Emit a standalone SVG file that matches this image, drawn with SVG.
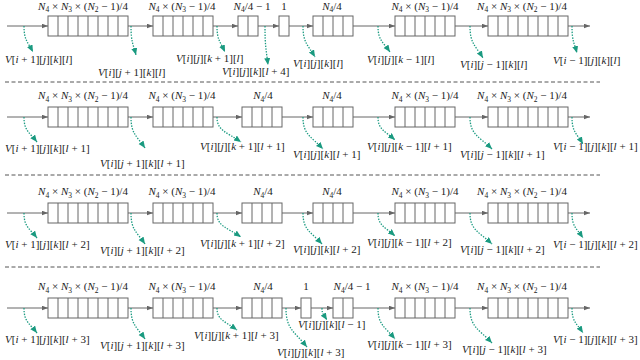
<svg xmlns="http://www.w3.org/2000/svg" width="640" height="360" viewBox="0 0 640 360">
<defs>
<style>
.t{font-family:"Liberation Serif","Times New Roman",serif;font-size:11px;fill:#222}
.c{text-anchor:middle}
.i{font-style:italic}
.s{font-size:7.5px}
.b{fill:#fff;stroke:#666;stroke-width:1}
.d{fill:none;stroke:#666;stroke-width:1}
.ln{stroke:#666;stroke-width:1;fill:none;marker-end:url(#ga)}
.g{stroke:#1a9a80;stroke-width:1.3;stroke-dasharray:1.4 1.4;fill:none;marker-end:url(#ta)}
.sep{stroke:#555;stroke-width:1;stroke-dasharray:4 2.5}
</style>
<marker id="ga" markerUnits="userSpaceOnUse" markerWidth="7" markerHeight="6" refX="6.5" refY="2.5" orient="auto"><path d="M0,0L6.5,2.5L0,5z" fill="#666"/></marker>
<marker id="ta" markerUnits="userSpaceOnUse" markerWidth="8" markerHeight="7" refX="7" refY="3" orient="auto"><path d="M0,0L7,3L0,6z" fill="#1a9a80"/></marker>
</defs>

<g id="separators">
<line class="sep" x1="5" y1="82" x2="600" y2="82"/>
<line class="sep" x1="5" y1="175" x2="600" y2="175"/>
<line class="sep" x1="5" y1="267" x2="600" y2="267"/>
</g>

<g id="connectors">
<line class="ln" x1="7" y1="26" x2="48" y2="26"/>
<line class="ln" x1="128" y1="26" x2="153" y2="26"/>
<line class="ln" x1="213" y1="26" x2="238" y2="26"/>
<line class="ln" x1="258" y1="26" x2="279" y2="26"/>
<line class="ln" x1="289" y1="26" x2="313" y2="26"/>
<line class="ln" x1="353" y1="26" x2="395" y2="26"/>
<line class="ln" x1="455" y1="26" x2="488" y2="26"/>
<line class="ln" x1="568" y1="26" x2="590" y2="26"/>
<line class="ln" x1="7" y1="117" x2="48" y2="117"/>
<line class="ln" x1="128" y1="117" x2="153" y2="117"/>
<line class="ln" x1="213" y1="117" x2="242" y2="117"/>
<line class="ln" x1="282" y1="117" x2="313" y2="117"/>
<line class="ln" x1="353" y1="117" x2="395" y2="117"/>
<line class="ln" x1="455" y1="117" x2="488" y2="117"/>
<line class="ln" x1="568" y1="117" x2="590" y2="117"/>
<line class="ln" x1="7" y1="213" x2="48" y2="213"/>
<line class="ln" x1="128" y1="213" x2="153" y2="213"/>
<line class="ln" x1="213" y1="213" x2="242" y2="213"/>
<line class="ln" x1="282" y1="213" x2="313" y2="213"/>
<line class="ln" x1="353" y1="213" x2="395" y2="213"/>
<line class="ln" x1="455" y1="213" x2="488" y2="213"/>
<line class="ln" x1="568" y1="213" x2="590" y2="213"/>
<line class="ln" x1="7" y1="308" x2="48" y2="308"/>
<line class="ln" x1="128" y1="308" x2="153" y2="308"/>
<line class="ln" x1="213" y1="308" x2="242" y2="308"/>
<line class="ln" x1="282" y1="308" x2="301" y2="308"/>
<line class="ln" x1="311" y1="308" x2="333" y2="308"/>
<line class="ln" x1="353" y1="308" x2="395" y2="308"/>
<line class="ln" x1="455" y1="308" x2="488" y2="308"/>
<line class="ln" x1="568" y1="308" x2="590" y2="308"/>

<path class="g" d="M24,26C24,40.3 27.6,41.6 33,52"/>
<path class="g" d="M131,26C131,42 133,43.4 136,55"/>
<path class="g" d="M217,26C217,40.3 220.2,41.6 225,52"/>
<path class="g" d="M265,26C265,47.5 266.2,49.4 268,65"/>
<path class="g" d="M303,26C303,43 307.8,44.6 315,57"/>
<path class="g" d="M378,26C378,40.3 382.8,41.6 390,52"/>
<path class="g" d="M470,26C470,43.6 475.2,45.2 483,58"/>
<path class="g" d="M572,26C572,40.9 574,42.2 577,53"/>
<path class="g" d="M24,117C24,130.8 29.2,132 37,142"/>
<path class="g" d="M131,117C131,134 136.6,135.6 145,148"/>
<path class="g" d="M217,117C217,130.8 226.6,132 241,142"/>
<path class="g" d="M303,117C303,134.6 311,136.2 323,149"/>
<path class="g" d="M378,117C378,129.7 384.8,130.8 395,140"/>
<path class="g" d="M470,117C470,134.6 478.8,136.2 492,149"/>
<path class="g" d="M572,117C572,131.9 576.4,133.2 583,144"/>
<path class="g" d="M24,213C24,226.8 29.2,228 37,238"/>
<path class="g" d="M131,213C131,230 136.6,231.6 145,244"/>
<path class="g" d="M217,213C217,226.2 226.6,227.4 241,237"/>
<path class="g" d="M303,213C303,230 310.6,231.6 322,244"/>
<path class="g" d="M378,213C378,225.7 384.8,226.8 395,236"/>
<path class="g" d="M470,213C470,230 478.8,231.6 492,244"/>
<path class="g" d="M572,213C572,226.8 576.4,228 583,238"/>
<path class="g" d="M24,308C24,321.8 29.2,323 37,333"/>
<path class="g" d="M131,308C131,325 136.6,326.6 145,339"/>
<path class="g" d="M217,308C217,320.1 225,321.2 237,330"/>
<path class="g" d="M286,308C286,329.5 294.4,331.4 307,347"/>
<path class="g" d="M322,308C322,314.6 324,315.2 327,320"/>
<path class="g" d="M378,308C378,325 384.8,326.6 395,339"/>
<path class="g" d="M470,308C470,327.3 478.8,329 492,343"/>
<path class="g" d="M572,308C572,321.8 576.4,323 583,333"/>
</g>

<g id="r1b1"><rect class="b" x="48" y="16" width="80" height="20"/><path class="d" d="M58 16V36M68 16V36M78 16V36M88 16V36M98 16V36M108 16V36M118 16V36"/>
<text class="t c" x="83" y="9.5"><tspan class="i">N</tspan><tspan class="s" dy="2.5">4</tspan><tspan dy="-2.5"> × </tspan><tspan class="i">N</tspan><tspan class="s" dy="2.5">3</tspan><tspan dy="-2.5"> × (</tspan><tspan class="i">N</tspan><tspan class="s" dy="2.5">2</tspan><tspan dy="-2.5"> − 1)/4</tspan></text></g>
<g id="r1b2"><rect class="b" x="153" y="16" width="60" height="20"/><path class="d" d="M163 16V36M173 16V36M183 16V36M193 16V36M203 16V36"/>
<text class="t c" x="182" y="9.5"><tspan class="i">N</tspan><tspan class="s" dy="2.5">4</tspan><tspan dy="-2.5"> × (</tspan><tspan class="i">N</tspan><tspan class="s" dy="2.5">3</tspan><tspan dy="-2.5"> − 1)/4</tspan></text></g>
<g id="r1b3"><rect class="b" x="238" y="16" width="20" height="20"/><path class="d" d="M248 16V36"/>
<text class="t c" x="252" y="9.5"><tspan class="i">N</tspan><tspan class="s" dy="2.5">4</tspan><tspan dy="-2.5">/4 − 1</tspan></text></g>
<g id="r1b4"><rect class="b" x="279" y="16" width="10" height="20"/>
<text class="t c" x="284" y="9.5">1</text></g>
<g id="r1b5"><rect class="b" x="313" y="16" width="40" height="20"/><path class="d" d="M323 16V36M333 16V36M343 16V36"/>
<text class="t c" x="332" y="9.5"><tspan class="i">N</tspan><tspan class="s" dy="2.5">4</tspan><tspan dy="-2.5">/4</tspan></text></g>
<g id="r1b6"><rect class="b" x="395" y="16" width="60" height="20"/><path class="d" d="M405 16V36M415 16V36M425 16V36M435 16V36M445 16V36"/>
<text class="t c" x="425" y="9.5"><tspan class="i">N</tspan><tspan class="s" dy="2.5">4</tspan><tspan dy="-2.5"> × (</tspan><tspan class="i">N</tspan><tspan class="s" dy="2.5">3</tspan><tspan dy="-2.5"> − 1)/4</tspan></text></g>
<g id="r1b7"><rect class="b" x="488" y="16" width="80" height="20"/><path class="d" d="M498 16V36M508 16V36M518 16V36M528 16V36M538 16V36M548 16V36M558 16V36"/>
<text class="t c" x="522" y="9.5"><tspan class="i">N</tspan><tspan class="s" dy="2.5">4</tspan><tspan dy="-2.5"> × </tspan><tspan class="i">N</tspan><tspan class="s" dy="2.5">3</tspan><tspan dy="-2.5"> × (</tspan><tspan class="i">N</tspan><tspan class="s" dy="2.5">2</tspan><tspan dy="-2.5"> − 1)/4</tspan></text></g>
<g id="r1labels">
<text class="t" x="5" y="63"><tspan class="i">V</tspan>[<tspan class="i">i</tspan> + 1][<tspan class="i">j</tspan>][<tspan class="i">k</tspan>][<tspan class="i">l</tspan>]</text>
<text class="t" x="98" y="76"><tspan class="i">V</tspan>[<tspan class="i">i</tspan>][<tspan class="i">j</tspan> + 1][<tspan class="i">k</tspan>][<tspan class="i">l</tspan>]</text>
<text class="t" x="176" y="62"><tspan class="i">V</tspan>[<tspan class="i">i</tspan>][<tspan class="i">j</tspan>][<tspan class="i">k</tspan> + 1][<tspan class="i">l</tspan>]</text>
<text class="t" x="222" y="75"><tspan class="i">V</tspan>[<tspan class="i">i</tspan>][<tspan class="i">j</tspan>][<tspan class="i">k</tspan>][<tspan class="i">l</tspan> + 4]</text>
<text class="t" x="293" y="67"><tspan class="i">V</tspan>[<tspan class="i">i</tspan>][<tspan class="i">j</tspan>][<tspan class="i">k</tspan>][<tspan class="i">l</tspan>]</text>
<text class="t" x="367" y="63"><tspan class="i">V</tspan>[<tspan class="i">i</tspan>][<tspan class="i">j</tspan>][<tspan class="i">k</tspan> − 1][<tspan class="i">l</tspan>]</text>
<text class="t" x="460" y="68"><tspan class="i">V</tspan>[<tspan class="i">i</tspan>][<tspan class="i">j</tspan> − 1][<tspan class="i">k</tspan>][<tspan class="i">l</tspan>]</text>
<text class="t" x="553" y="64"><tspan class="i">V</tspan>[<tspan class="i">i</tspan> − 1][<tspan class="i">j</tspan>][<tspan class="i">k</tspan>][<tspan class="i">l</tspan>]</text>
</g>

<g id="r2b1"><rect class="b" x="48" y="107" width="80" height="20"/><path class="d" d="M58 107V127M68 107V127M78 107V127M88 107V127M98 107V127M108 107V127M118 107V127"/>
<text class="t c" x="83" y="99"><tspan class="i">N</tspan><tspan class="s" dy="2.5">4</tspan><tspan dy="-2.5"> × </tspan><tspan class="i">N</tspan><tspan class="s" dy="2.5">3</tspan><tspan dy="-2.5"> × (</tspan><tspan class="i">N</tspan><tspan class="s" dy="2.5">2</tspan><tspan dy="-2.5"> − 1)/4</tspan></text></g>
<g id="r2b2"><rect class="b" x="153" y="107" width="60" height="20"/><path class="d" d="M163 107V127M173 107V127M183 107V127M193 107V127M203 107V127"/>
<text class="t c" x="182" y="99"><tspan class="i">N</tspan><tspan class="s" dy="2.5">4</tspan><tspan dy="-2.5"> × (</tspan><tspan class="i">N</tspan><tspan class="s" dy="2.5">3</tspan><tspan dy="-2.5"> − 1)/4</tspan></text></g>
<g id="r2b3"><rect class="b" x="242" y="107" width="40" height="20"/><path class="d" d="M252 107V127M262 107V127M272 107V127"/>
<text class="t c" x="263" y="99"><tspan class="i">N</tspan><tspan class="s" dy="2.5">4</tspan><tspan dy="-2.5">/4</tspan></text></g>
<g id="r2b4"><rect class="b" x="313" y="107" width="40" height="20"/><path class="d" d="M323 107V127M333 107V127M343 107V127"/>
<text class="t c" x="332" y="99"><tspan class="i">N</tspan><tspan class="s" dy="2.5">4</tspan><tspan dy="-2.5">/4</tspan></text></g>
<g id="r2b5"><rect class="b" x="395" y="107" width="60" height="20"/><path class="d" d="M405 107V127M415 107V127M425 107V127M435 107V127M445 107V127"/>
<text class="t c" x="425" y="99"><tspan class="i">N</tspan><tspan class="s" dy="2.5">4</tspan><tspan dy="-2.5"> × (</tspan><tspan class="i">N</tspan><tspan class="s" dy="2.5">3</tspan><tspan dy="-2.5"> − 1)/4</tspan></text></g>
<g id="r2b6"><rect class="b" x="488" y="107" width="80" height="20"/><path class="d" d="M498 107V127M508 107V127M518 107V127M528 107V127M538 107V127M548 107V127M558 107V127"/>
<text class="t c" x="522" y="99"><tspan class="i">N</tspan><tspan class="s" dy="2.5">4</tspan><tspan dy="-2.5"> × </tspan><tspan class="i">N</tspan><tspan class="s" dy="2.5">3</tspan><tspan dy="-2.5"> × (</tspan><tspan class="i">N</tspan><tspan class="s" dy="2.5">2</tspan><tspan dy="-2.5"> − 1)/4</tspan></text></g>
<g id="r2labels">
<text class="t" x="5" y="152"><tspan class="i">V</tspan>[<tspan class="i">i</tspan> + 1][<tspan class="i">j</tspan>][<tspan class="i">k</tspan>][<tspan class="i">l</tspan> + 1]</text>
<text class="t" x="100" y="167"><tspan class="i">V</tspan>[<tspan class="i">i</tspan>][<tspan class="i">j</tspan> + 1][<tspan class="i">k</tspan>][<tspan class="i">l</tspan> + 1]</text>
<text class="t" x="200" y="150"><tspan class="i">V</tspan>[<tspan class="i">i</tspan>][<tspan class="i">j</tspan>][<tspan class="i">k</tspan> + 1][<tspan class="i">l</tspan> + 1]</text>
<text class="t" x="293" y="158"><tspan class="i">V</tspan>[<tspan class="i">i</tspan>][<tspan class="i">j</tspan>][<tspan class="i">k</tspan>][<tspan class="i">l</tspan> + 1]</text>
<text class="t" x="367" y="150"><tspan class="i">V</tspan>[<tspan class="i">i</tspan>][<tspan class="i">j</tspan>][<tspan class="i">k</tspan> − 1][<tspan class="i">l</tspan> + 1]</text>
<text class="t" x="460" y="158"><tspan class="i">V</tspan>[<tspan class="i">i</tspan>][<tspan class="i">j</tspan> − 1][<tspan class="i">k</tspan>][<tspan class="i">l</tspan> + 1]</text>
<text class="t" x="553" y="150"><tspan class="i">V</tspan>[<tspan class="i">i</tspan> − 1][<tspan class="i">j</tspan>][<tspan class="i">k</tspan>][<tspan class="i">l</tspan> + 1]</text>
</g>

<g id="r3b1"><rect class="b" x="48" y="203" width="80" height="20"/><path class="d" d="M58 203V223M68 203V223M78 203V223M88 203V223M98 203V223M108 203V223M118 203V223"/>
<text class="t c" x="83" y="195"><tspan class="i">N</tspan><tspan class="s" dy="2.5">4</tspan><tspan dy="-2.5"> × </tspan><tspan class="i">N</tspan><tspan class="s" dy="2.5">3</tspan><tspan dy="-2.5"> × (</tspan><tspan class="i">N</tspan><tspan class="s" dy="2.5">2</tspan><tspan dy="-2.5"> − 1)/4</tspan></text></g>
<g id="r3b2"><rect class="b" x="153" y="203" width="60" height="20"/><path class="d" d="M163 203V223M173 203V223M183 203V223M193 203V223M203 203V223"/>
<text class="t c" x="182" y="195"><tspan class="i">N</tspan><tspan class="s" dy="2.5">4</tspan><tspan dy="-2.5"> × (</tspan><tspan class="i">N</tspan><tspan class="s" dy="2.5">3</tspan><tspan dy="-2.5"> − 1)/4</tspan></text></g>
<g id="r3b3"><rect class="b" x="242" y="203" width="40" height="20"/><path class="d" d="M252 203V223M262 203V223M272 203V223"/>
<text class="t c" x="263" y="195"><tspan class="i">N</tspan><tspan class="s" dy="2.5">4</tspan><tspan dy="-2.5">/4</tspan></text></g>
<g id="r3b4"><rect class="b" x="313" y="203" width="40" height="20"/><path class="d" d="M323 203V223M333 203V223M343 203V223"/>
<text class="t c" x="332" y="195"><tspan class="i">N</tspan><tspan class="s" dy="2.5">4</tspan><tspan dy="-2.5">/4</tspan></text></g>
<g id="r3b5"><rect class="b" x="395" y="203" width="60" height="20"/><path class="d" d="M405 203V223M415 203V223M425 203V223M435 203V223M445 203V223"/>
<text class="t c" x="425" y="195"><tspan class="i">N</tspan><tspan class="s" dy="2.5">4</tspan><tspan dy="-2.5"> × (</tspan><tspan class="i">N</tspan><tspan class="s" dy="2.5">3</tspan><tspan dy="-2.5"> − 1)/4</tspan></text></g>
<g id="r3b6"><rect class="b" x="488" y="203" width="80" height="20"/><path class="d" d="M498 203V223M508 203V223M518 203V223M528 203V223M538 203V223M548 203V223M558 203V223"/>
<text class="t c" x="522" y="195"><tspan class="i">N</tspan><tspan class="s" dy="2.5">4</tspan><tspan dy="-2.5"> × </tspan><tspan class="i">N</tspan><tspan class="s" dy="2.5">3</tspan><tspan dy="-2.5"> × (</tspan><tspan class="i">N</tspan><tspan class="s" dy="2.5">2</tspan><tspan dy="-2.5"> − 1)/4</tspan></text></g>
<g id="r3labels">
<text class="t" x="5" y="248"><tspan class="i">V</tspan>[<tspan class="i">i</tspan> + 1][<tspan class="i">j</tspan>][<tspan class="i">k</tspan>][<tspan class="i">l</tspan> + 2]</text>
<text class="t" x="100" y="254"><tspan class="i">V</tspan>[<tspan class="i">i</tspan>][<tspan class="i">j</tspan> + 1][<tspan class="i">k</tspan>][<tspan class="i">l</tspan> + 2]</text>
<text class="t" x="200" y="247"><tspan class="i">V</tspan>[<tspan class="i">i</tspan>][<tspan class="i">j</tspan>][<tspan class="i">k</tspan> + 1][<tspan class="i">l</tspan> + 2]</text>
<text class="t" x="293" y="253"><tspan class="i">V</tspan>[<tspan class="i">i</tspan>][<tspan class="i">j</tspan>][<tspan class="i">k</tspan>][<tspan class="i">l</tspan> + 2]</text>
<text class="t" x="367" y="246"><tspan class="i">V</tspan>[<tspan class="i">i</tspan>][<tspan class="i">j</tspan>][<tspan class="i">k</tspan> − 1][<tspan class="i">l</tspan> + 2]</text>
<text class="t" x="460" y="253"><tspan class="i">V</tspan>[<tspan class="i">i</tspan>][<tspan class="i">j</tspan> − 1][<tspan class="i">k</tspan>][<tspan class="i">l</tspan> + 2]</text>
<text class="t" x="553" y="248"><tspan class="i">V</tspan>[<tspan class="i">i</tspan> − 1][<tspan class="i">j</tspan>][<tspan class="i">k</tspan>][<tspan class="i">l</tspan> + 2]</text>
</g>

<g id="r4b1"><rect class="b" x="48" y="298" width="80" height="20"/><path class="d" d="M58 298V318M68 298V318M78 298V318M88 298V318M98 298V318M108 298V318M118 298V318"/>
<text class="t c" x="83" y="290"><tspan class="i">N</tspan><tspan class="s" dy="2.5">4</tspan><tspan dy="-2.5"> × </tspan><tspan class="i">N</tspan><tspan class="s" dy="2.5">3</tspan><tspan dy="-2.5"> × (</tspan><tspan class="i">N</tspan><tspan class="s" dy="2.5">2</tspan><tspan dy="-2.5"> − 1)/4</tspan></text></g>
<g id="r4b2"><rect class="b" x="153" y="298" width="60" height="20"/><path class="d" d="M163 298V318M173 298V318M183 298V318M193 298V318M203 298V318"/>
<text class="t c" x="182" y="290"><tspan class="i">N</tspan><tspan class="s" dy="2.5">4</tspan><tspan dy="-2.5"> × (</tspan><tspan class="i">N</tspan><tspan class="s" dy="2.5">3</tspan><tspan dy="-2.5"> − 1)/4</tspan></text></g>
<g id="r4b3"><rect class="b" x="242" y="298" width="40" height="20"/><path class="d" d="M252 298V318M262 298V318M272 298V318"/>
<text class="t c" x="263" y="290"><tspan class="i">N</tspan><tspan class="s" dy="2.5">4</tspan><tspan dy="-2.5">/4</tspan></text></g>
<g id="r4b4"><rect class="b" x="301" y="298" width="10" height="20"/>
<text class="t c" x="306" y="290">1</text></g>
<g id="r4b5"><rect class="b" x="333" y="298" width="20" height="20"/><path class="d" d="M343 298V318"/>
<text class="t c" x="352" y="290"><tspan class="i">N</tspan><tspan class="s" dy="2.5">4</tspan><tspan dy="-2.5">/4 − 1</tspan></text></g>
<g id="r4b6"><rect class="b" x="395" y="298" width="60" height="20"/><path class="d" d="M405 298V318M415 298V318M425 298V318M435 298V318M445 298V318"/>
<text class="t c" x="425" y="290"><tspan class="i">N</tspan><tspan class="s" dy="2.5">4</tspan><tspan dy="-2.5"> × (</tspan><tspan class="i">N</tspan><tspan class="s" dy="2.5">3</tspan><tspan dy="-2.5"> − 1)/4</tspan></text></g>
<g id="r4b7"><rect class="b" x="488" y="298" width="80" height="20"/><path class="d" d="M498 298V318M508 298V318M518 298V318M528 298V318M538 298V318M548 298V318M558 298V318"/>
<text class="t c" x="522" y="290"><tspan class="i">N</tspan><tspan class="s" dy="2.5">4</tspan><tspan dy="-2.5"> × </tspan><tspan class="i">N</tspan><tspan class="s" dy="2.5">3</tspan><tspan dy="-2.5"> × (</tspan><tspan class="i">N</tspan><tspan class="s" dy="2.5">2</tspan><tspan dy="-2.5"> − 1)/4</tspan></text></g>
<g id="r4labels">
<text class="t" x="5" y="343"><tspan class="i">V</tspan>[<tspan class="i">i</tspan> + 1][<tspan class="i">j</tspan>][<tspan class="i">k</tspan>][<tspan class="i">l</tspan> + 3]</text>
<text class="t" x="100" y="349"><tspan class="i">V</tspan>[<tspan class="i">i</tspan>][<tspan class="i">j</tspan> + 1][<tspan class="i">k</tspan>][<tspan class="i">l</tspan> + 3]</text>
<text class="t" x="194" y="339"><tspan class="i">V</tspan>[<tspan class="i">i</tspan>][<tspan class="i">j</tspan>][<tspan class="i">k</tspan> + 1][<tspan class="i">l</tspan> + 3]</text>
<text class="t" x="277" y="356"><tspan class="i">V</tspan>[<tspan class="i">i</tspan>][<tspan class="i">j</tspan>][<tspan class="i">k</tspan>][<tspan class="i">l</tspan> + 3]</text>
<text class="t" x="298" y="328"><tspan class="i">V</tspan>[<tspan class="i">i</tspan>][<tspan class="i">j</tspan>][<tspan class="i">k</tspan>][<tspan class="i">l</tspan> − 1]</text>
<text class="t" x="367" y="348"><tspan class="i">V</tspan>[<tspan class="i">i</tspan>][<tspan class="i">j</tspan>][<tspan class="i">k</tspan> − 1][<tspan class="i">l</tspan> + 3]</text>
<text class="t" x="462" y="353"><tspan class="i">V</tspan>[<tspan class="i">i</tspan>][<tspan class="i">j</tspan> − 1][<tspan class="i">k</tspan>][<tspan class="i">l</tspan> + 3]</text>
<text class="t" x="553" y="343"><tspan class="i">V</tspan>[<tspan class="i">i</tspan> − 1][<tspan class="i">j</tspan>][<tspan class="i">k</tspan>][<tspan class="i">l</tspan> + 3]</text>
</g>
</svg>
